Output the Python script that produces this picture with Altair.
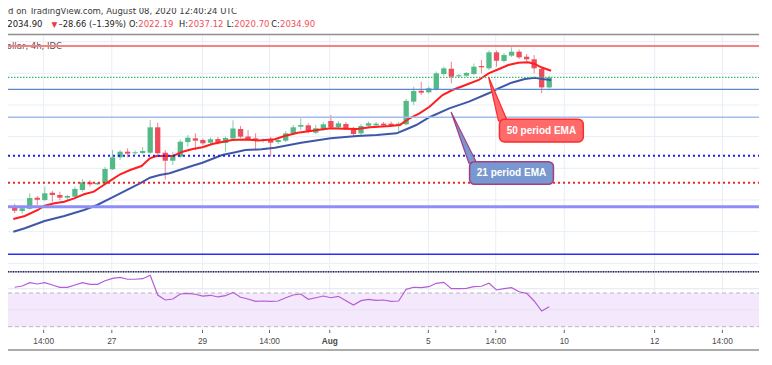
import altair as alt
import pandas as pd

# ---------------- data ----------------
OPEN = [1871.5, 1866.1, 1869.0, 1882.9, 1880.0, 1889.2, 1886.3, 1882.9, 1884.2, 1892.6,
        1902.4, 1899.8, 1901.1, 1918.8, 1933.9, 1941.0, 1939.0, 1939.4, 1939.7, 1971.8,
        1939.7, 1929.6, 1934.7, 1953.2, 1957.9, 1955.8, 1952.4, 1957.0, 1952.0, 1957.7,
        1969.7, 1960.2, 1957.9, 1954.5, 1955.8, 1953.2, 1954.9, 1964.2, 1972.6, 1974.3,
        1965.0, 1969.7, 1979.8, 1971.8, 1976.0, 1969.7, 1964.2, 1973.8, 1974.3, 1976.4,
        1976.4, 1973.8, 1975.6, 2004.2, 2018.0, 2016.0, 2019.8, 2039.1, 2045.8, 2036.2,
        2037.0, 2039.1, 2049.2, 2046.3, 2066.5, 2055.6, 2062.3, 2067.3, 2061.0, 2057.7,
        2045.5, 2022.19]
HIGH = [1875.0, 1872.0, 1888.5, 1885.1, 1896.8, 1891.7, 1890.5, 1886.3, 1896.8, 1906.5,
        1905.3, 1902.7, 1921.7, 1943.1, 1943.1, 1945.3, 1942.5, 1946.9, 1981.0, 1977.6,
        1943.1, 1941.0, 1956.4, 1962.1, 1964.2, 1957.7, 1959.0, 1959.6, 1960.2, 1980.7,
        1973.5, 1968.4, 1964.2, 1957.7, 1959.6, 1958.3, 1967.1, 1974.7, 1983.2, 1976.9,
        1974.7, 1978.5, 1987.4, 1979.8, 1978.5, 1972.2, 1976.0, 1979.1, 1978.5, 1978.5,
        1979.1, 1978.5, 2007.6, 2023.1, 2029.4, 2023.4, 2042.3, 2048.6, 2054.7, 2039.1,
        2041.6, 2052.4, 2056.8, 2068.8, 2068.8, 2065.7, 2072.9, 2070.1, 2064.4, 2063.1,
        2048.0, 2037.12]
LOW = [1863.6, 1862.7, 1868.0, 1873.7, 1878.7, 1877.8, 1880.0, 1880.0, 1883.4, 1890.5,
       1896.8, 1898.9, 1900.2, 1917.9, 1930.5, 1933.9, 1936.8, 1938.1, 1938.1, 1936.8,
       1906.1, 1924.2, 1933.0, 1947.3, 1943.1, 1949.5, 1950.4, 1950.1, 1941.0, 1956.4,
       1958.3, 1954.5, 1943.1, 1952.6, 1934.7, 1950.7, 1953.2, 1962.7, 1968.4, 1964.2,
       1963.4, 1967.8, 1969.7, 1969.1, 1968.4, 1960.8, 1960.0, 1972.2, 1972.2, 1972.2,
       1972.2, 1966.3, 1974.1, 2000.0, 2012.6, 2014.5, 2018.3, 2036.6, 2027.4, 2034.7,
       2035.3, 2037.9, 2040.0, 2044.2, 2048.4, 2053.7, 2060.6, 2058.1, 2054.9, 2040.0,
       2014.8, 2020.70]
CLOSE = [1866.5, 1869.5, 1882.5, 1880.4, 1888.5, 1886.3, 1882.9, 1885.1, 1893.9, 1902.4,
         1899.8, 1901.5, 1919.2, 1933.9, 1941.0, 1938.5, 1940.2, 1941.9, 1971.8, 1939.0,
         1929.6, 1935.9, 1953.6, 1958.7, 1954.9, 1951.6, 1956.7, 1952.4, 1958.3, 1970.3,
         1960.0, 1956.4, 1954.8, 1955.8, 1952.4, 1955.8, 1964.2, 1971.8, 1974.7, 1965.9,
         1970.6, 1975.6, 1971.8, 1976.9, 1970.6, 1963.4, 1973.5, 1976.9, 1976.4, 1974.3,
         1974.3, 1976.4, 2005.2, 2017.7, 2015.5, 2021.1, 2040.0, 2046.3, 2035.7, 2037.5,
         2040.4, 2048.4, 2047.6, 2066.5, 2055.9, 2063.1, 2067.3, 2060.2, 2057.7, 2046.3,
         2022.2, 2034.90]

RSI = [76.8, 78.3, 82.2, 80.7, 82.2, 79.5, 76.8, 76.8, 79.5, 82.2,
       80.3, 80.3, 84.6, 87.4, 88.6, 86.3, 86.3, 87.0, 91.0, 67.6,
       61.7, 62.9, 68.8, 69.6, 68.5, 66.4, 67.3, 65.3, 66.8, 70.8,
       64.9, 62.9, 60.1, 60.5, 60.1, 60.5, 64.4, 67.6, 68.8, 62.5,
       64.4, 66.4, 64.4, 66.1, 60.9, 55.8, 60.9, 62.5, 61.3, 61.7,
       60.1, 60.5, 74.4, 76.8, 76.3, 77.5, 81.5, 82.7, 75.1, 75.1,
       75.6, 77.5, 78.0, 81.5, 73.6, 75.1, 76.3, 71.5, 69.6, 60.5,
       48.6, 53.7]

EMA_RED_X = [-0.18, 1.35, 3.09, 3.97, 5.28, 6.59, 7.9, 9.21, 10.52, 11.83, 12.71, 14.02,
             15.33, 16.85, 17.96, 18.82, 21.01, 22.32, 23.63, 24.94, 26.25, 27.56, 28.87,
             30.62, 32.37, 34.55, 35.86, 37.61, 40.24, 41.98, 43.72, 45.48, 47.22, 49.84,
             51.15, 51.81, 52.46, 53.77, 55.1, 56.83, 58.14, 59.9, 61.64, 62.95, 64.26,
             65.57, 66.88, 68.19, 69.07, 69.94, 71.25]
EMA_RED_P = [1856.0, 1859.8, 1867.4, 1872.8, 1875.8, 1877.9, 1882.1, 1887.2, 1890.5, 1898.9,
             1904.4, 1912.5, 1917.9, 1922.9, 1932.7, 1935.6, 1935.6, 1941.0, 1944.4, 1946.6,
             1950.7, 1953.3, 1955.8, 1956.4, 1955.1, 1956.7, 1960.8, 1965.0, 1968.4, 1970.6,
             1970.1, 1969.7, 1971.8, 1973.5, 1974.7, 1978.9, 1983.2, 1989.5, 1997.8, 2012.6,
             2018.9, 2025.2, 2031.6, 2040.0, 2045.1, 2050.5, 2053.4, 2053.9, 2051.8, 2047.6,
             2043.3]

EMA_BLUE_X = [-0.18, 1.35, 3.97, 6.59, 9.21, 10.96, 12.71, 14.02, 15.33, 16.64, 17.96,
              19.27, 20.58, 21.89, 23.63, 24.94, 27.56, 29.31, 30.62, 32.8, 34.55, 38.05,
              41.98, 45.48, 48.1, 50.72, 52.03, 53.34, 55.1, 57.72, 60.34, 62.95, 64.26,
              66.0, 67.76, 69.07, 70.38, 71.25]
EMA_BLUE_P = [1840.0, 1844.3, 1853.5, 1859.8, 1867.4, 1873.7, 1882.1, 1888.5, 1894.8, 1901.1,
              1908.2, 1911.6, 1913.7, 1917.9, 1923.3, 1927.1, 1936.8, 1940.2, 1943.1, 1944.0,
              1946.1, 1952.4, 1957.9, 1960.8, 1962.1, 1964.2, 1969.3, 1974.7, 1984.5, 1995.8,
              2004.2, 2014.8, 2021.1, 2028.2, 2032.8, 2034.5, 2032.4, 2031.6]

TICK_POS = [3.85, 12.9, 24.95, 33.85, 41.85, 54.95, 63.9, 73.0, 85.0, 94.0]
TICK_LABELS = ["14:00", "27", "29", "14:00", "Aug", "5", "14:00", "10", "12", "14:00"]

PRICE_GRID = [1800, 1840, 1880, 1920, 1960, 2000, 2040, 2080]
RSI_GRID = [50, 75]
RSI_BAND = [30, 70]

LEVEL_PRICES = [2074.5, 2034.9, 2019.8, 1984.5, 1936.0, 1901.9, 1871.5, 1811.4]

CALLOUT_LABELS = ["50 period EMA", "21 period EMA"]
CALLOUT_BOX_X = [[64.39, 75.53], [60.42, 71.56]]
CALLOUT_BOX_P = [[1981.9, 1953.3], [1928.4, 1899.8]]
CALLOUT_TEXT_X = [69.96, 65.99]
CALLOUT_TEXT_P = [1967.5, 1914.1]
CALLOUT_TIP = [[62.95, 2035.3], [57.97, 1991.1]]
CALLOUT_BASE = [[64.26, 65.44, 1979.8], [60.33, 61.38, 1926.7]]

# ---------------- chart ----------------
W, H = 751, 357
FONT = "Liberation Sans"
HFONT = "DejaVu Sans"
GREEN, RED = "#53b987", "#eb4d5c"

xs = alt.Scale(domain=[-0.223, 98.2], nice=False, zero=False)
ps = alt.Scale(domain=[1671.6, 2122.5], nice=False, zero=False)
rs = alt.Scale(domain=[-15.46, 408.3], nice=False, zero=False)


def X(f):
    return alt.X(f, type="quantitative", scale=xs, axis=None)


def PY(f):
    return alt.Y(f, type="quantitative", scale=ps, axis=None)


def RY(f):
    return alt.Y(f, type="quantitative", scale=rs, axis=None)


one = pd.DataFrame({"a": [0]})


def txt(s, x, y, color="#333333", size=8.5, weight="normal", align="left", font=HFONT):
    return alt.Chart(one).mark_text(
        text=s, align=align, baseline="alphabetic", fontSize=size,
        fontWeight=weight, color=color, font=font
    ).encode(x=alt.value(x), y=alt.value(y))


def hline_px(y, color, width, dash=None):
    kw = dict(color=color, strokeWidth=width)
    if dash:
        kw["strokeDash"] = dash
    return alt.Chart(one).mark_rule(**kw).encode(
        x=alt.value(0), x2=alt.value(W), y=alt.value(y))


cdf = pd.DataFrame({"i": list(range(len(OPEN))), "o": OPEN, "h": HIGH, "l": LOW, "c": CLOSE})
cdf["dir"] = ["up" if c >= o else "down" for o, c in zip(OPEN, CLOSE)]
color = alt.Color("dir:N", scale=alt.Scale(domain=["up", "down"], range=[GREEN, RED]), legend=None)

ticks = pd.DataFrame({"pos": TICK_POS, "lab": TICK_LABELS})
ticks_norm = ticks[ticks["lab"] != "Aug"]
ticks_bold = ticks[ticks["lab"] == "Aug"]

layers = []

# grid
layers.append(alt.Chart(ticks).mark_rule(color="#e8eef6", strokeWidth=1).encode(
    x=X("pos"), y=alt.value(27), y2=alt.value(322)))
layers.append(alt.Chart(pd.DataFrame({"p": PRICE_GRID})).mark_rule(color="#e8eef6", strokeWidth=1).encode(
    y=PY("p"), x=alt.value(0), x2=alt.value(W)))

# RSI pane background band + grid
layers.append(alt.Chart(pd.DataFrame({"lo": [RSI_BAND[0]], "hi": [RSI_BAND[1]]})).mark_rect(
    color="#f4e8fd").encode(y=RY("hi"), y2=alt.Y2("lo"), x=alt.value(0), x2=alt.value(W)))
layers.append(alt.Chart(pd.DataFrame({"r": RSI_GRID})).mark_rule(color="#e4e4ee", strokeWidth=1).encode(
    y=RY("r"), x=alt.value(0), x2=alt.value(W)))
layers.append(alt.Chart(pd.DataFrame({"r": RSI_BAND})).mark_rule(
    color="#b8b8bc", strokeWidth=1, strokeDash=[4, 3]).encode(y=RY("r"), x=alt.value(0), x2=alt.value(W)))

# symbol text under the top level line
layers.append(txt("Gold Spot / U.S. Dollar, 4h, IDC", 54, 41, color="#555555", align="right"))

# candles
layers.append(alt.Chart(cdf).mark_rule(strokeWidth=1, opacity=0.7).encode(
    x=X("i"), y=PY("l"), y2=alt.Y2("h"), color=color))
layers.append(alt.Chart(cdf).mark_bar(size=5.3).encode(
    x=X("i"), y=PY("o"), y2=alt.Y2("c"), color=color))

# EMAs
layers.append(alt.Chart(pd.DataFrame({"x": EMA_BLUE_X, "p": EMA_BLUE_P})).mark_line(
    color="#3f57a8", strokeWidth=2).encode(x=X("x"), y=PY("p"), order="x:Q"))
layers.append(alt.Chart(pd.DataFrame({"x": EMA_RED_X, "p": EMA_RED_P})).mark_line(
    color="#ff1e1e", strokeWidth=2).encode(x=X("x"), y=PY("p"), order="x:Q"))

# horizontal levels
level_styles = [
    dict(color="#f78080", strokeWidth=2),
    dict(color="#3dbb6a", strokeWidth=1.2, strokeDash=[1.5, 1.5]),
    dict(color="#5d88d2", strokeWidth=1.3),
    dict(color="#a3bcec", strokeWidth=1.6),
    dict(color="#1e1ef0", strokeWidth=2, strokeDash=[2, 3]),
    dict(color="#f02424", strokeWidth=2, strokeDash=[2, 3]),
    dict(color="#8e8ef7", strokeWidth=3),
    dict(color="#2d2dfa", strokeWidth=1.5),
]
for price, st in zip(LEVEL_PRICES, level_styles):
    layers.append(alt.Chart(pd.DataFrame({"p": [price]})).mark_rule(**st).encode(
        y=PY("p"), x=alt.value(0), x2=alt.value(W)))

# frame lines
layers.append(hline_px(26.5, "#8f8f8f", 1.5))
layers.append(hline_px(263.7, "#9a9a9a", 1.5))
layers.append(hline_px(263.7, "#1a237e", 1.5, [1, 1.5]))
layers.append(hline_px(342, "#8f8f8f", 1.5))

# RSI line
layers.append(alt.Chart(pd.DataFrame({"i": list(range(len(RSI))), "r": RSI})).mark_line(
    color="#b45cd6", strokeWidth=1.2).encode(x=X("i"), y=RY("r")))

# callouts
callout_fill = ["#ff6b6b", "#7898cf"]
callout_stroke = ["#ff2a2a", "#a23f86"]
for k in range(2):
    tip, base = CALLOUT_TIP[k], CALLOUT_BASE[k]
    pdf = pd.DataFrame({"p": [tip[1], base[2]], "xa": [tip[0], base[0]], "xb": [tip[0], base[1]]})
    layers.append(alt.Chart(pdf).mark_area(
        orient="horizontal", color=callout_fill[k], stroke=callout_stroke[k], strokeWidth=1.2,
        opacity=1).encode(y=PY("p"), x=X("xa"), x2=alt.X2("xb")))
    bdf = pd.DataFrame({"x1": [CALLOUT_BOX_X[k][0]], "x2": [CALLOUT_BOX_X[k][1]],
                        "p1": [CALLOUT_BOX_P[k][0]], "p2": [CALLOUT_BOX_P[k][1]]})
    layers.append(alt.Chart(bdf).mark_rect(
        color=callout_fill[k], stroke=callout_stroke[k], strokeWidth=1.5, cornerRadius=5).encode(
        x=X("x1"), x2=alt.X2("x2"), y=PY("p1"), y2=alt.Y2("p2")))
    tdf = pd.DataFrame({"x": [CALLOUT_TEXT_X[k]], "p": [CALLOUT_TEXT_P[k]], "t": [CALLOUT_LABELS[k]]})
    layers.append(alt.Chart(tdf).mark_text(
        font=FONT, fontSize=10, fontWeight="bold", color="white", align="center",
        baseline="middle").encode(x=X("x"), y=PY("p"), text="t:N"))

# header
layers.append(txt("Published on TradingView.com, August 08, 2020 12:40:24 UTC", 229, 6.4,
                  color="#3a3a3a", align="right"))
hy = 18.7
layers.append(txt("2034.90", -0.7, hy, color="#222222"))
layers.append(txt("\u25BC", 46.5, hy, color="#f23645", size=7.5, align="center"))
layers.append(txt("\u201328.66 (\u20131.39%)", 50.5, hy, color="#222222", size=8.3))
for lab, val, vx in [("O:", "2022.19", 130.3), ("H:", "2037.12", 180.3),
                     ("L:", "2020.70", 226.3), ("C:", "2034.90", 272)]:
    layers.append(txt(lab, vx - 0.3, hy, color="#222222", size=8.2, align="right"))
    layers.append(txt(val, vx, hy, color="#f0505a"))

# x axis ticks and labels
layers.append(alt.Chart(ticks).mark_rule(color="#666666", strokeWidth=1).encode(
    x=X("pos"), y=alt.value(322), y2=alt.value(325)))
layers.append(alt.Chart(ticks_norm).mark_text(font=FONT, fontSize=8.3, color="#4a4a4a",
                                              baseline="alphabetic", align="center").encode(
    x=X("pos"), y=alt.value(335.5), text="lab:N"))
layers.append(alt.Chart(ticks_bold).mark_text(font=FONT, fontSize=8.3, color="#4a4a4a", fontWeight="bold",
                                              baseline="alphabetic", align="center").encode(
    x=X("pos"), y=alt.value(335.5), text="lab:N"))

chart = alt.layer(*layers).resolve_scale(y="independent").properties(
    width=W, height=H, padding=0,
    autosize=alt.AutoSizeParams(type="none"),
    background="white",
).configure_view(stroke=None)

chart.save("out.html", embed_options={"renderer": "svg", "actions": False})
